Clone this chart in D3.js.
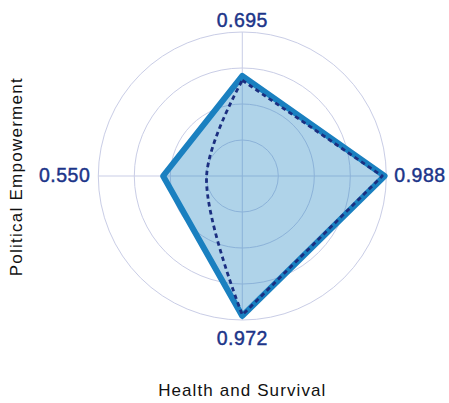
<!DOCTYPE html>
<html>
<head>
<meta charset="utf-8">
<script src="https://cdn.jsdelivr.net/npm/d3@7"></script>
<style>
  html, body { margin: 0; padding: 0; background: #ffffff; }
  svg { display: block; }
  text { font-family: "Liberation Sans", Arial, Helvetica, sans-serif; }
</style>
</head>
<body>
<svg id="chart" width="449" height="403"></svg>
<script>
// ---- data ----
const categories = ["Economic Participation", "Educational Attainment", "Health and Survival", "Political Empowerment"];
const seriesValues = [0.695, 0.988, 0.972, 0.550];
const benchmarkValues = [0.665, 0.972, 0.965, 0.248];
const valueLabels = ["0.695", "0.988", "0.972", "0.550"];
const ringTicks = [0.25, 0.5, 0.75, 1.0];
const xAxisTitle = "Health and Survival";
const yAxisTitle = "Political Empowerment";

// ---- layout ----
const width = 449, height = 403;
const cx = 242.3, cy = 176;
const R = 144;

const svg = d3.select("#chart");
const g = svg.append("g").attr("transform", `translate(${cx},${cy})`);

const r = d3.scaleLinear().domain([0, 1]).range([0, R]);
const angle = d3.scaleLinear().domain([0, categories.length]).range([0, 2 * Math.PI]);

const gridColor = "#c9cde6";
const lineColor = "#1a80c0";
const dashColor = "#1b2e80";
const labelColor = "#1c3589";

// grid rings
g.selectAll("circle.ring").data(ringTicks).enter().append("circle")
  .attr("class", "ring")
  .attr("r", d => r(d))
  .attr("fill", "none")
  .attr("stroke", gridColor)
  .attr("stroke-width", 1);

// spokes
g.selectAll("line.spoke").data(categories).enter().append("line")
  .attr("class", "spoke")
  .attr("x1", 0)
  .attr("y1", 0)
  .attr("x2", (d, i) => r(1) * Math.sin(angle(i)))
  .attr("y2", (d, i) => -r(1) * Math.cos(angle(i)))
  .attr("stroke", gridColor)
  .attr("stroke-width", 1);

// main series polygon
const radial = d3.lineRadial()
  .angle((d, i) => angle(i))
  .radius(d => r(d))
  .curve(d3.curveLinearClosed);

g.append("path")
  .datum(seriesValues)
  .attr("d", radial)
  .attr("fill", lineColor)
  .attr("fill-opacity", 0.35)
  .attr("stroke", "none");

g.append("path")
  .datum(seriesValues)
  .attr("d", radial)
  .attr("fill", "none")
  .attr("stroke", lineColor)
  .attr("stroke-width", 6)
  .attr("stroke-linejoin", "round");

// benchmark dashed line: straight on the right, smooth on the left
const n = categories.length;
const rightPts = [0, 1, 2].map(i => ({ a: angle(i), v: benchmarkValues[i] }));
const leftPts = [2, 3, 4].map(i => ({ a: angle(i), v: benchmarkValues[i % n] }));
const lineRight = d3.lineRadial().angle(d => d.a).radius(d => r(d.v)).curve(d3.curveLinear);
const lineLeft = d3.lineRadial().angle(d => d.a).radius(d => r(d.v)).curve(d3.curveCatmullRom.alpha(0.5));
const dPath = lineRight(rightPts) + lineLeft(leftPts).replace(/^M[^CLc]*/, "");

g.append("path")
  .attr("d", dPath)
  .attr("fill", "none")
  .attr("stroke", dashColor)
  .attr("stroke-width", 2.8)
  .attr("stroke-dasharray", "4.5,3.5")
  .attr("stroke-linejoin", "round");

// value labels at axis ends
const labelPos = [
  { x: 0, y: -(r(1) + 5.3), anchor: "middle" },
  { x: r(1) + 8, y: 6, anchor: "start" },
  { x: 0, y: r(1) + 25, anchor: "middle" },
  { x: -(r(1) + 8), y: 6, anchor: "end" }
];
g.selectAll("text.vlabel").data(valueLabels).enter().append("text")
  .attr("class", "vlabel")
  .attr("x", (d, i) => labelPos[i].x)
  .attr("y", (d, i) => labelPos[i].y)
  .attr("text-anchor", (d, i) => labelPos[i].anchor)
  .attr("fill", labelColor)
  .attr("stroke", labelColor)
  .attr("stroke-width", 0.45)
  .attr("font-size", "19.5px")
  .attr("letter-spacing", "0.5px")
  .text(d => d);

// axis titles
svg.append("text")
  .attr("x", cx)
  .attr("y", 396)
  .attr("text-anchor", "middle")
  .attr("fill", "#111111")
  .attr("font-size", "17px")
  .attr("letter-spacing", "1.1px")
  .text(xAxisTitle);

svg.append("text")
  .attr("transform", `translate(21.5,${cy + 0.7}) rotate(-90)`)
  .attr("text-anchor", "middle")
  .attr("fill", "#111111")
  .attr("font-size", "17px")
  .attr("letter-spacing", "1.25px")
  .text(yAxisTitle);
</script>
</body>
</html>
